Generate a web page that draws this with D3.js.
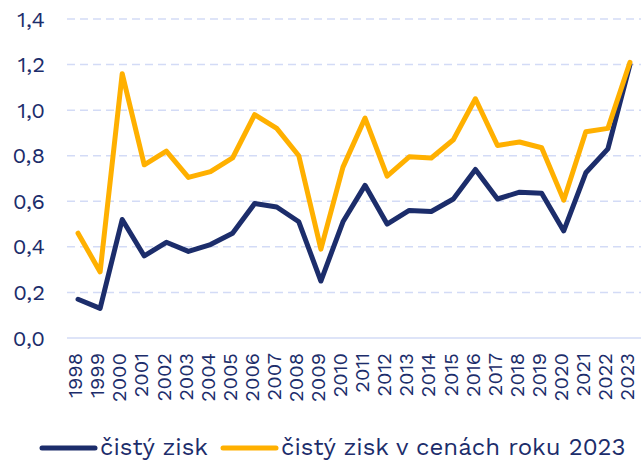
<!DOCTYPE html>
<html>
<head>
<meta charset="utf-8">
<script src="https://cdn.jsdelivr.net/npm/d3@7"></script>
<style>
  body { margin: 0; background: #fff; }
  text { font-family: "Work Sans", Inter, "Noto Sans", sans-serif; fill: #1c2d6b; }
</style>
</head>
<body>
<div id="chart"></div>
<script>
// data
var years = ["1998","1999","2000","2001","2002","2003","2004","2005","2006","2007","2008","2009","2010",
  "2011","2012","2013","2014","2015","2016","2017","2018","2019","2020","2021","2022","2023"];
var cistyZisk = [0.17,0.13,0.52,0.36,0.42,0.38,0.41,0.46,0.59,0.575,0.51,0.25,0.51,
  0.67,0.50,0.56,0.555,0.61,0.74,0.61,0.64,0.635,0.47,0.725,0.83,1.20];
var cistyZisk2023 = [0.46,0.29,1.16,0.76,0.82,0.705,0.73,0.79,0.98,0.92,0.80,0.39,0.75,
  0.965,0.71,0.795,0.79,0.87,1.05,0.845,0.86,0.835,0.605,0.905,0.92,1.21];
var yTicks = [0, 0.2, 0.4, 0.6, 0.8, 1.0, 1.2, 1.4];
var seriesNames = ["čistý zisk", "čistý zisk v cenách roku 2023"];
var colors = ["#1c2d6b", "#ffb000"];

var w = 642, h = 461;
var svg = d3.select("#chart").append("svg").attr("width", w).attr("height", h);

var x = d3.scaleBand().domain(years).range([67, 641]);
var y = d3.scaleLinear().domain([0, 1.4]).range([338, 19]);
var fmt = function(d) { return d3.format(".1f")(d).replace(".", ","); };

// gridlines
svg.selectAll("line.grid")
  .data(yTicks).enter().append("line")
  .attr("class", "grid")
  .attr("x1", 67).attr("x2", 641)
  .attr("y1", function(d) { return y(d); }).attr("y2", function(d) { return y(d); })
  .style("stroke", "#d3dbf6")
  .style("stroke-width", 1.5)
  .style("stroke-dasharray", function(d) { return d === 0 ? null : "8,5"; });

// y axis labels
var yAxis = svg.append("g")
  .attr("transform", "translate(45,0)")
  .call(d3.axisLeft(y).tickValues(yTicks).tickFormat(fmt).tickSize(0).tickPadding(0));
yAxis.select(".domain").remove();
yAxis.selectAll("text").style("font-size", "22px").attr("fill", "#1c2d6b");

// x axis labels (rotated)
var xAxis = svg.append("g")
  .attr("transform", "translate(0,338)")
  .call(d3.axisBottom(x).tickSize(0).tickPadding(0));
xAxis.select(".domain").remove();
xAxis.selectAll("text")
  .style("font-size", "20px")
  .attr("fill", "#1c2d6b")
  .attr("text-anchor", "end")
  .attr("transform", "rotate(-90)")
  .attr("x", -15).attr("y", -3).attr("dy", "0.36em");

// lines
var line = d3.line()
  .x(function(d, i) { return x(years[i]) + x.bandwidth() / 2; })
  .y(function(d) { return y(d); });

[cistyZisk, cistyZisk2023].forEach(function(s, i) {
  svg.append("path")
    .datum(s)
    .attr("fill", "none")
    .attr("stroke", colors[i])
    .attr("stroke-width", 5)
    .attr("stroke-linejoin", "round")
    .attr("stroke-linecap", "round")
    .attr("d", line);
});

// legend
var legendX = [42, 223];
seriesNames.forEach(function(n, i) {
  svg.append("line")
    .attr("x1", legendX[i]).attr("x2", legendX[i] + 53)
    .attr("y1", 448).attr("y2", 448)
    .attr("stroke", colors[i]).attr("stroke-width", 5)
    .attr("stroke-linecap", "round");
  svg.append("text")
    .attr("x", legendX[i] + 58).attr("y", 447).attr("dy", "0.35em")
    .style("font-size", "24px")
    .text(n);
});
</script>
</body>
</html>
